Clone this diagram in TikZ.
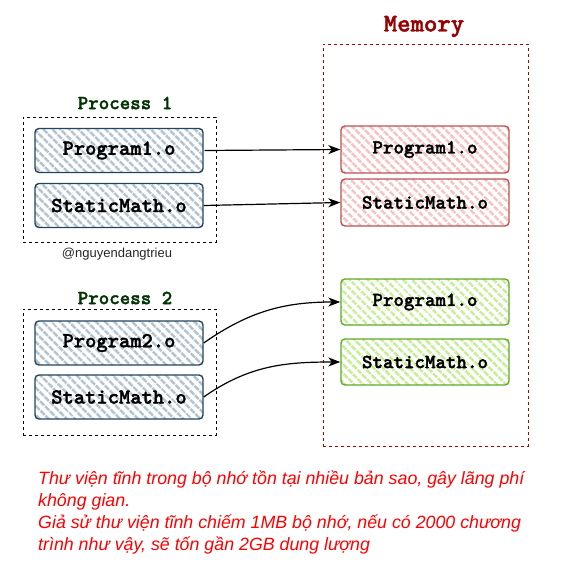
\documentclass[tikz,border=0pt]{standalone}
\usepackage{fontspec}
\setmainfont{Liberation Sans}
\newfontfamily\heavymono{lmmonolt10-bold.otf}[FakeBold=1.6]
\usetikzlibrary{patterns.meta,arrows.meta}
\definecolor{bluestroke}{HTML}{23445D}
\definecolor{bluehatch}{HTML}{B4C3D0}
\definecolor{redstroke}{HTML}{B85450}
\definecolor{redhatch}{HTML}{F6C4C2}
\definecolor{greenstroke}{HTML}{5FA82A}
\definecolor{greenhatch}{HTML}{C8EE9C}
\definecolor{procgreen}{HTML}{003300}
\definecolor{memred}{HTML}{990000}
\definecolor{memframe}{HTML}{B20000}
\definecolor{notered}{HTML}{FF0000}
\tikzset{
  objbox/.style={draw, rounded corners=4pt, line width=1.4pt, inner sep=0pt,
    minimum width=168pt, minimum height=44pt,
    pattern={Lines[angle=-45,distance=6.5pt,line width=3pt]},
    font=\heavymono\fontsize{21.5}{24}\selectfont},
  procbox/.style={objbox, draw=bluestroke, pattern color=bluehatch},
  redbox/.style={objbox, draw=redstroke, pattern color=redhatch, minimum height=47pt,
    font=\heavymono\fontsize{20}{23}\selectfont},
  greenbox/.style={objbox, draw=greenstroke, pattern color=greenhatch, minimum height=46pt,
    font=\heavymono\fontsize{20}{23}\selectfont},
  procframe/.style={draw=black, dashed, line width=0.9pt, inner sep=0pt},
  memframebox/.style={draw=memframe, dashed, line width=0.9pt, inner sep=0pt},
  proclabel/.style={text=procgreen, font=\heavymono\fontsize{20}{23}\selectfont},
  arr/.style={-{Stealth[length=12pt,width=9pt,inset=3.5pt]}, line width=1.2pt, black},
}
\begin{document}
\begin{tikzpicture}[x=1pt,y=-1pt]
\useasboundingbox (0,0) rectangle (562,581);
% frames
\node[procframe, minimum width=193pt, minimum height=125pt] (pf1) at (119.5,179.5) {};
\node[procframe, minimum width=193pt, minimum height=126pt] (pf2) at (119.5,372) {};
\node[memframebox, minimum width=205pt, minimum height=402pt] (mf) at (425.5,245) {};
% labels
\node[proclabel] (pl1) at (125,103) {Process 1};
\node[proclabel] (pl2) at (125,298) {Process 2};
\node[text=memred, font=\heavymono\fontsize{25.5}{28}\selectfont] (ml) at (424,26.5) {Memory};
\node[font=\fontsize{13}{15}\selectfont, text=black!85] (wm) at (117,254) {@nguyendangtrieu};
% process boxes
\node[procbox] (p1a) at (119,150.5) {Program1.o};
\node[procbox] (p1b) at (119,205.5) {StaticMath.o};
\node[procbox] (p2a) at (119,343) {Program2.o};
\node[procbox] (p2b) at (119,397) {StaticMath.o};
% memory boxes
\node[redbox] (m1a) at (425,149.5) {Program1.o};
\node[redbox] (m1b) at (425,202.5) {StaticMath.o};
\node[greenbox] (m2a) at (425,302) {Program1.o};
\node[greenbox] (m2b) at (425,362) {StaticMath.o};
% arrows
\draw[arr] (p1a.east) -- (m1a.west);
\draw[arr] (p1b.east) -- (m1b.west);
\draw[arr] (p2a.east) to[out=35,in=180] (m2a.west);
\draw[arr] (p2b.east) to[out=35,in=180] (m2b.west);
% note
\node[anchor=north west, inner sep=0pt, align=left, text=notered,
  font=\itshape\fontsize{17.8}{21.9}\selectfont] (note) at (38,470.5)
  {Thư viện tĩnh trong bộ nhớ tồn tại nhiều bản sao, gây lãng phí\\
   không gian.\\
   Giả sử thư viện tĩnh chiếm 1MB bộ nhớ, nếu có 2000 chương\\
   trình như vậy, sẽ tốn gần 2GB dung lượng};
\end{tikzpicture}
\end{document}
